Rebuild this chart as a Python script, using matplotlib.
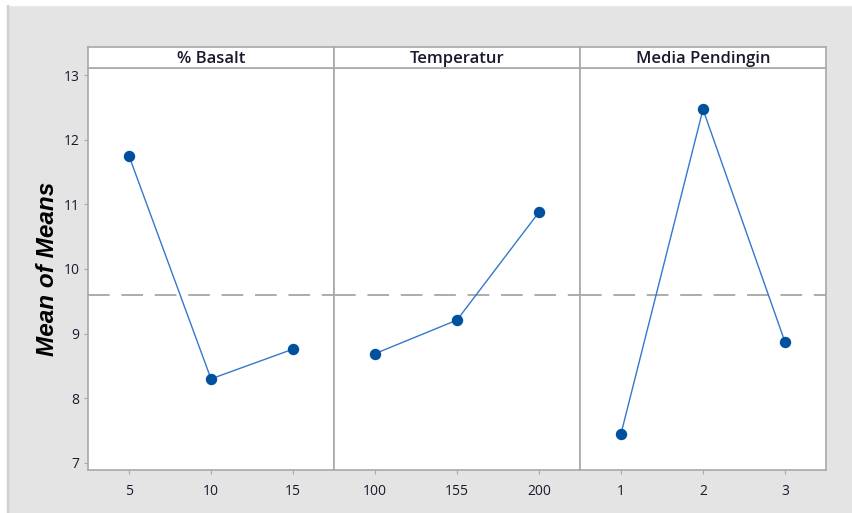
import matplotlib
matplotlib.use("Agg")
import matplotlib.pyplot as plt
from matplotlib.patches import Rectangle

# main effects data (mean of means per factor level)
factors = ['% Basalt', 'Temperatur', 'Media Pendingin']
levels = [['5', '10', '15'], ['100', '155', '200'], ['1', '2', '3']]
basalt = [11.75, 8.30, 8.76]
temperatur = [8.69, 9.21, 10.88]
media = [7.45, 12.47, 8.87]
y_ticks = [7, 8, 9, 10, 11, 12, 13]

series = [basalt, temperatur, media]
grand_mean = sum(basalt + temperatur + media) / 9.0

W, H = 852, 513
bg = '#e4e4e4'
edge = '#a8a8a8'
txt = '#1a1a2e'

fig = plt.figure(figsize=(W / 100, H / 100), dpi=100, facecolor=bg)
# thin white margin on the left and top
fig.patches.append(Rectangle((0, 0), 7 / W, 1, transform=fig.transFigure, color='white', zorder=0))
fig.patches.append(Rectangle((0, 1 - 5 / H), 1, 5 / H, transform=fig.transFigure, color='white', zorder=0))
fig.patches.append(Rectangle((7 / W, 0), 1.2 / W, 1 - 5 / H, transform=fig.transFigure, color='#cfcfcf', zorder=0))

x0, pw = 88, 246
top_strip, top_ax, bot_ax = 47, 68, 470

for i, (name, labs, vals) in enumerate(zip(factors, levels, series)):
    left = x0 + i * pw
    ax = fig.add_axes([left / W, (H - bot_ax) / H, pw / W, (bot_ax - top_ax) / H])
    ax.set_facecolor('white')
    pos = list(range(1, len(vals) + 1))
    ax.axhline(grand_mean, color='#a6a6a6', lw=1.3, dashes=(12, 6.5), zorder=1)
    ax.plot(pos, vals, color='#3577cc', lw=1.0, zorder=2)
    ax.plot(pos, vals, 'o', color='#0050a0', ms=7.2, mec='#0050a0', zorder=3)
    ax.set_xlim(0.5, 3.5)
    ax.set_ylim(6.89, 13.11)
    ax.set_xticks(pos)
    ax.set_xticklabels(labs, fontsize=10, color=txt, family='Open Sans')
    for s in ax.spines.values():
        s.set_color(edge)
        s.set_linewidth(1.2)
    ax.tick_params(axis='x', length=3, color=edge, pad=7)
    if i == 0:
        ax.set_yticks(y_ticks)
        ax.set_yticklabels([str(v) for v in y_ticks], fontsize=10, color=txt, family='Open Sans')
        ax.tick_params(axis='y', length=3, color=edge, pad=3)
        ax.set_ylabel('Mean of Means', fontsize=17.5, fontweight='bold', fontstyle='italic',
                      family='Liberation Sans', color='black', labelpad=3)
    else:
        ax.set_yticks([])

    # title strip above each panel
    sax = fig.add_axes([left / W, (H - top_ax) / H, pw / W, (top_ax - top_strip) / H])
    sax.set_facecolor('white')
    sax.set_xticks([])
    sax.set_yticks([])
    for s in sax.spines.values():
        s.set_color(edge)
        s.set_linewidth(1.2)
    sax.text(0.5, 0.45, name, ha='center', va='center', fontsize=12, color=txt,
             family='Open Sans', fontweight='semibold', transform=sax.transAxes)

fig.savefig('out.png', dpi=100, facecolor=bg)
